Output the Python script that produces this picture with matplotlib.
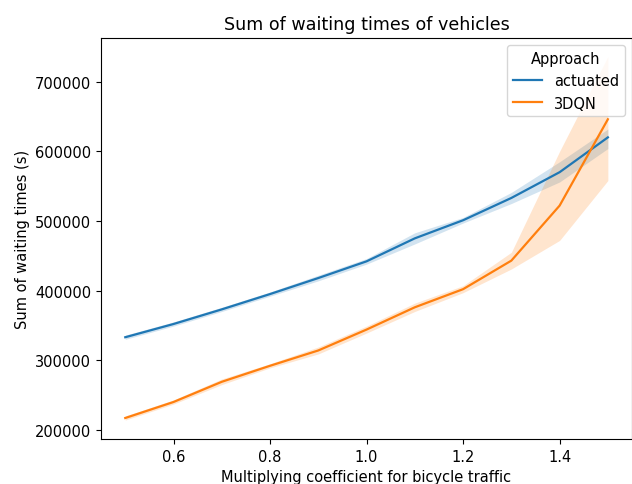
import numpy as np
import matplotlib.pyplot as plt

# ── Data ──────────────────────────────────────────────────────────
coef = [0.5, 0.6, 0.7, 0.8, 0.9, 1.0, 1.1, 1.2, 1.3, 1.4, 1.5]

actuated_mean = [333000, 352000, 373000, 395000, 418000, 442000, 475000, 501000, 533000, 570000, 620000]
actuated_lo   = [330000, 349000, 370000, 392000, 414000, 438000, 467000, 497000, 525000, 556000, 604000]
actuated_hi   = [336000, 355000, 376000, 398000, 422000, 446000, 483000, 505000, 541000, 585000, 632000]

dqn_mean = [217000, 240000, 269000, 292000, 314000, 344000, 376000, 402000, 443000, 522000, 646000]
dqn_lo   = [214000, 237000, 265000, 289000, 309000, 339000, 370000, 397000, 431000, 472000, 558000]
dqn_hi   = [220000, 243000, 273000, 295000, 319000, 349000, 382000, 407000, 455000, 600000, 736000]

series = [
    ('actuated', actuated_mean, actuated_lo, actuated_hi, '#1f77b4'),
    ('3DQN',     dqn_mean,      dqn_lo,      dqn_hi,      '#ff7f0e'),
]

# reference is a slightly enlarged screenshot, so bump font sizes a bit
plt.rcParams['font.size'] = 10.5

# ── Plot ──────────────────────────────────────────────────────────
fig = plt.figure(figsize=(6.32, 4.85), dpi=100)
ax = fig.add_axes([0.16, 0.093, 0.84, 0.827])

for name, mean, lo, hi, col in series:
    ax.plot(coef, mean, color=col, lw=1.6, label=name)
    ax.fill_between(coef, lo, hi, color=col, alpha=0.2, lw=0)

ax.set_xlim(0.45, 1.55)
ax.set_ylim(187000, 763000)
ax.set_xticks([0.6, 0.8, 1.0, 1.2, 1.4])
ax.set_yticks([200000, 300000, 400000, 500000, 600000, 700000])
ax.ticklabel_format(axis='y', style='plain')

ax.set_title('Sum of waiting times of vehicles', fontsize=12.6)
ax.set_xlabel('Multiplying coefficient for bicycle traffic')
ax.set_ylabel('Sum of waiting times (s)')
ax.legend(title='Approach', loc='upper right')

plt.savefig('out.png', dpi=100)
plt.close()
